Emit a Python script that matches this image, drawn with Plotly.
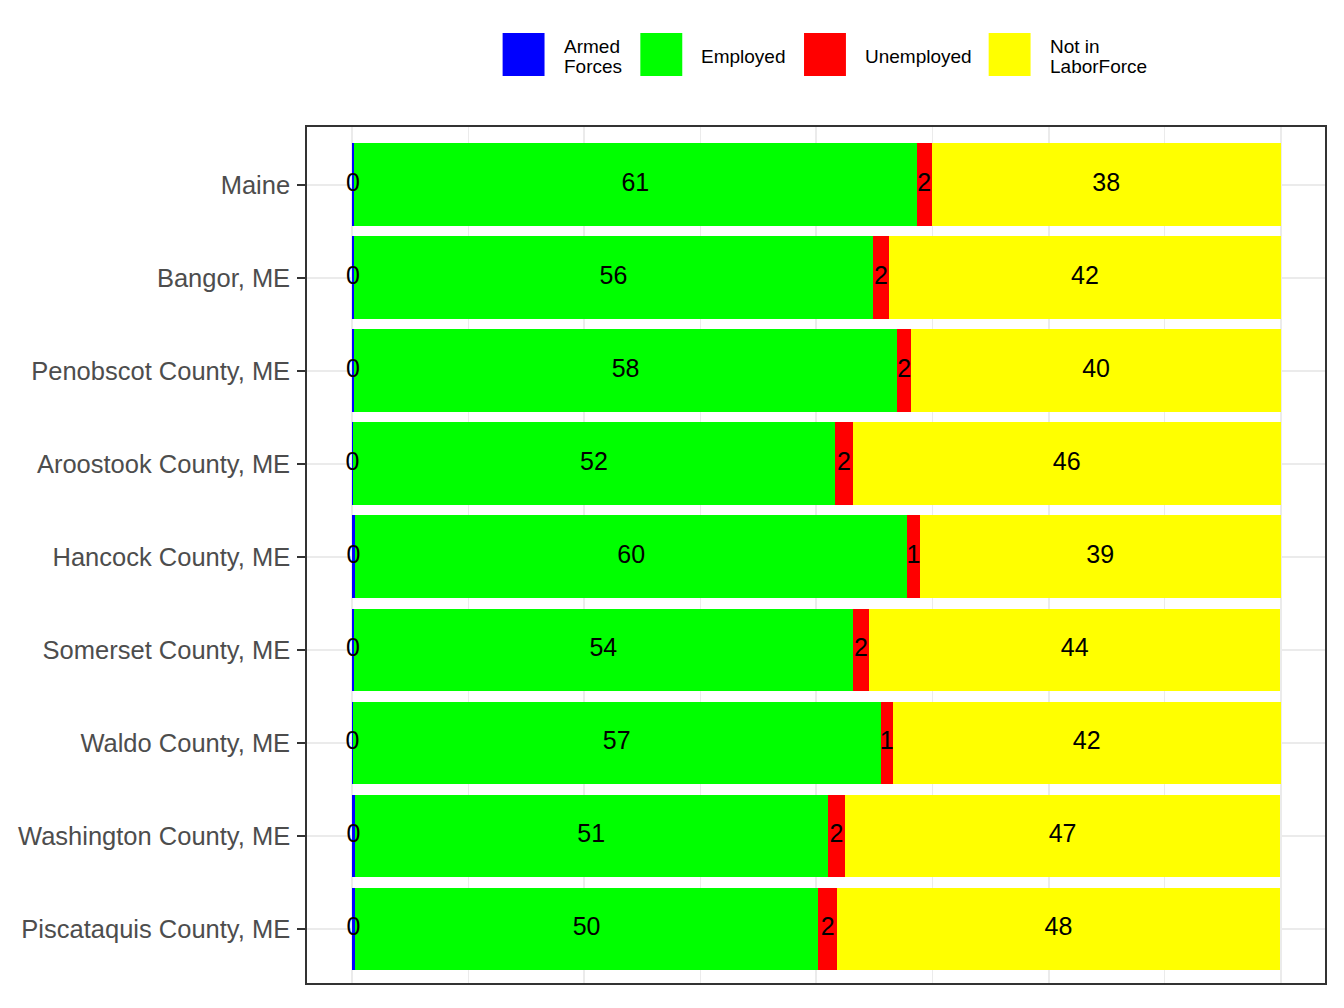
import numpy as np
import plotly.graph_objects as go

# geographies, top to bottom
places = ["Maine", "Bangor, ME", "Penobscot County, ME", "Aroostook County, ME",
          "Hancock County, ME", "Somerset County, ME", "Waldo County, ME",
          "Washington County, ME", "Piscataquis County, ME"]

# percent of population 16+ by employment status
armed_forces = [0.2, 0.2, 0.2, 0.1, 0.3, 0.2, 0.1, 0.3, 0.3]
employed = [60.6, 55.9, 58.5, 51.9, 59.5, 53.7, 56.8, 50.9, 49.9]
unemployed = [1.6, 1.7, 1.5, 1.9, 1.3, 1.8, 1.3, 1.9, 2.0]
not_in_lf = [37.6, 42.2, 39.8, 46.1, 38.9, 44.2, 41.8, 46.8, 47.7]

series = [(["Armed", "Forces"], armed_forces, "#0000FF"),
          (["Employed"], employed, "#00FF00"),
          (["Unemployed"], unemployed, "#FF0000"),
          (["Not in", "LaborForce"], not_in_lf, "#FFFF00")]

FONT = "Liberation Sans, Arial, sans-serif"

fig = go.Figure()
left = np.zeros(len(places))
for name, vals, col in series:
    vals = np.array(vals)
    fig.add_trace(go.Bar(y=places, x=vals, orientation="h", name=" ".join(name),
                         marker=dict(color=col, line=dict(width=0)),
                         showlegend=False, hoverinfo="x+y"))
    # value labels in the middle of each segment
    fig.add_trace(go.Scatter(y=places, x=left + vals / 2, mode="text",
                             text=[str(int(round(v))) for v in vals],
                             textfont=dict(family=FONT, size=25, color="black"),
                             showlegend=False, hoverinfo="skip"))
    left = left + vals

fig.update_layout(barmode="stack", bargap=0.11)

# hand-made legend to get the big ggplot keys (positions in screen px)
def px(x):
    return (x - 307) / 1020

def py(y):
    return (983 - y) / 856

key_x = [503, 641, 805, 990]
for (name, vals, col), kx in zip(series, key_x):
    fig.add_shape(type="rect", xref="paper", yref="paper",
                  x0=px(kx), x1=px(kx + 42), y0=py(76), y1=py(33),
                  fillcolor=col, line=dict(width=0))
    if len(name) == 1:
        ys = [56]
    else:
        ys = [46, 66]
    for line, ly in zip(name, ys):
        fig.add_annotation(xref="paper", yref="paper", x=px(kx + 59), y=py(ly),
                           xanchor="left", yanchor="middle", text=line,
                           showarrow=False, align="left",
                           font=dict(family=FONT, size=19, color="black"))

fig.update_xaxes(range=[-4.85, 104.75], tick0=0, dtick=25, showticklabels=False,
                 ticks="", showgrid=True, gridcolor="#EBEBEB", gridwidth=2,
                 minor=dict(dtick=12.5, showgrid=True, gridcolor="#EBEBEB", gridwidth=1),
                 zeroline=False, showline=True, linecolor="#333333", linewidth=1.5,
                 mirror=True)
fig.update_yaxes(categoryorder="array", categoryarray=places,
                 range=[len(places) - 0.42, -0.62],
                 showgrid=True, gridcolor="#EBEBEB", gridwidth=2,
                 ticks="outside", ticklen=8, tickwidth=2, tickcolor="#333333",
                 ticklabelstandoff=2,
                 tickfont=dict(family=FONT, size=25.5, color="#4D4D4D"),
                 showline=True, linecolor="#333333", linewidth=1.5, mirror=True)

# page has an 8px body margin, so the figure is 16px smaller
fig.update_layout(width=1328, height=992,
                  margin=dict(l=299, r=9, t=119, b=17),
                  plot_bgcolor="white", paper_bgcolor="white",
                  font=dict(family=FONT), showlegend=False)

fig.write_html("out.html")
